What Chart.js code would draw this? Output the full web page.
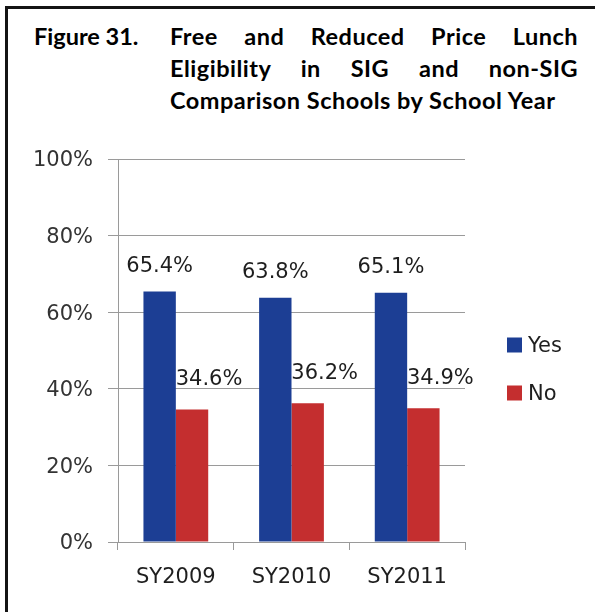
<!DOCTYPE html>
<html>
<head>
<meta charset="utf-8">
<script src="https://cdn.jsdelivr.net/npm/chart.js@4.4.1/dist/chart.umd.min.js"></script>
<style>
  html, body { margin: 0; padding: 0; background: #fff; }
  #wrap { position: relative; width: 595px; height: 612px; overflow: hidden; }
  #frame { position: absolute; left: 5px; top: 6px; right: -10px; bottom: -10px;
           border-left: 3px solid #141414; border-top: 3px solid #141414; }
  #title { position: absolute; left: 0; top: 20px; width: 595px;
           font-family: Lato, "Open Sans", sans-serif; font-weight: bold; font-size: 23.5px;
           letter-spacing: 0.5px; line-height: 32px; color: #000; }
  #title .fig { position: absolute; left: 34px; top: 0; white-space: nowrap; letter-spacing: 0; }
  #title .txt { position: absolute; left: 170px; top: 0; width: 408px; }
  #title .j { text-align: justify; text-align-last: justify; }
  #c { position: absolute; left: 0; top: 0; }
</style>
</head>
<body>
<div id="wrap">
  <div id="frame"></div>
  <div id="title">
    <div class="fig">Figure 31.</div>
    <div class="txt">
      <div class="j">Free and Reduced Price Lunch</div>
      <div class="j">Eligibility in SIG and non-SIG</div>
      <div>Comparison Schools by School Year</div>
    </div>
  </div>
  <canvas id="c" width="595" height="612"></canvas>
</div>
<script>
var years = ['SY2009', 'SY2010', 'SY2011'];
var yesValues = [65.4, 63.8, 65.1];
var noValues = [34.6, 36.2, 34.9];
var yTicks = [0, 20, 40, 60, 80, 100];

var FONT = '"DejaVu Sans", sans-serif';

// value labels above each bar
const barLabels = {
    id: 'barLabels',
    afterDatasetsDraw(chart) {
        const ctx = chart.ctx;
        ctx.save();
        ctx.font = '21px ' + FONT;
        ctx.fillStyle = '#1e1e1e';
        ctx.textAlign = 'center';
        ctx.textBaseline = 'middle';
        chart.data.datasets.forEach((ds, i) => {
            const shiftX = i == 0 ? 0 : 17;
            const shiftY = i == 0 ? 25 : 30;
            chart.getDatasetMeta(i).data.forEach((bar, j) => {
                ctx.fillText(ds.data[j].toFixed(1) + '%', bar.x + shiftX, bar.y - shiftY);
            });
        });
        ctx.restore();
    }
};

// legend on the right
const sideLegend = {
    id: 'sideLegend',
    afterDraw(chart) {
        const ctx = chart.ctx;
        const x = chart.chartArea.right + 42;
        ctx.save();
        ctx.font = '21px ' + FONT;
        ctx.textBaseline = 'middle';
        chart.data.datasets.forEach((ds, i) => {
            const cy = 345 + i * 48;
            ctx.fillStyle = ds.backgroundColor;
            ctx.fillRect(x, cy - 7.5, 15, 15);
            ctx.fillStyle = '#1e1e1e';
            ctx.fillText(ds.label, x + 21, cy + 2);
        });
        ctx.restore();
    }
};

const lunchData = {
    labels: years,
    datasets: [
        { label: 'Yes', data: yesValues, backgroundColor: '#1c3e94' },
        { label: 'No', data: noValues, backgroundColor: '#c42e2f' }
    ]
};

const lunchConfig = {
    type: 'bar',
    data: lunchData,
    options: {
        responsive: false,
        animation: false,
        layout: { padding: { left: 0, top: 159, right: 130, bottom: 20 } },
        datasets: { bar: { categoryPercentage: 0.56, barPercentage: 1.0 } },
        plugins: {
            legend: { display: false },
            tooltip: { enabled: false }
        },
        scales: {
            x: {
                grid: { offset: true, drawOnChartArea: false, tickLength: 8, color: '#9a9a9a' },
                border: { color: '#9a9a9a' },
                ticks: { font: { family: FONT, size: 21 }, color: '#1e1e1e', padding: 15 },
                afterFit: scale => { scale.height = 50; }
            },
            y: {
                min: 0,
                max: 100,
                afterBuildTicks: scale => { scale.ticks = yTicks.map(v => ({ value: v })); },
                grid: { tickLength: 10, color: '#9a9a9a' },
                border: { color: '#9a9a9a' },
                ticks: { font: { family: FONT, size: 21 }, color: '#333', padding: 15,
                         labelOffset: 2, callback: v => v + '%' },
                afterFit: scale => { scale.width = 118; }
            }
        }
    },
    plugins: [barLabels, sideLegend]
};

const lunchChart = new Chart(document.getElementById('c'), lunchConfig);
</script>
</body>
</html>
